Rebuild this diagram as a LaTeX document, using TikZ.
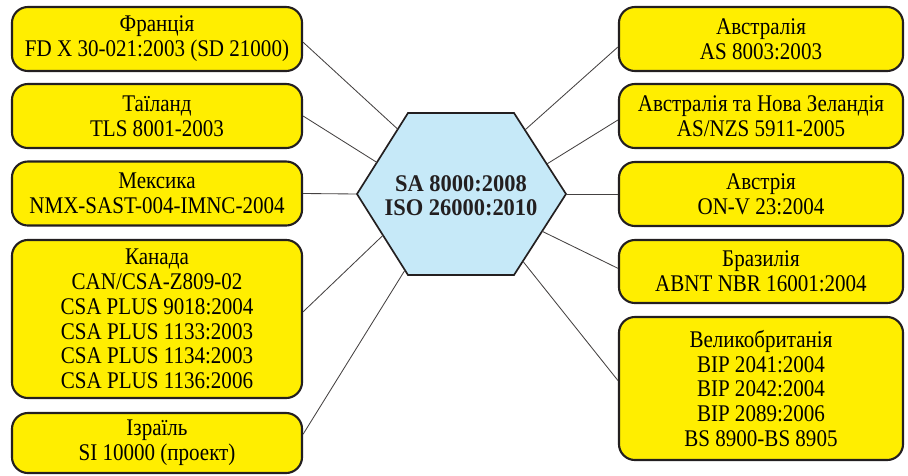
\documentclass[tikz,border=0pt]{standalone}
\usepackage{fontspec}
\newfontfamily\boxfont[FakeStretch=0.88]{Liberation Serif}
\newfontfamily\hexfont[FakeStretch=0.94]{Liberation Serif}
\usetikzlibrary{calc}
\definecolor{boxyellow}{RGB}{255,238,0}
\definecolor{hexblue}{RGB}{198,233,248}
\definecolor{edge}{RGB}{35,31,32}
\tikzset{
  stdbox/.style={draw=edge, line width=1.5pt, fill=boxyellow, rounded corners=4mm,
    align=center, inner sep=0pt, font=\boxfont\fontsize{17}{17.7}\selectfont},
  leftbox/.style={stdbox, minimum width=7.25cm},
  rightbox/.style={stdbox, minimum width=7.1cm},
  link/.style={draw=edge!85, line width=0.6pt}
}
\begin{document}
\begin{tikzpicture}[x=0.025cm,y=-0.025cm]
\useasboundingbox (0,0) rectangle (908,475);

\node[leftbox, minimum height=1.6cm] (fr) at (157,39) {Франція\\FD X 30-021:2003 (SD 21000)};
\node[leftbox, minimum height=1.6cm] (th) at (157,116) {Таїланд\\TLS 8001-2003};
\node[leftbox, minimum height=1.6cm] (mx) at (157,193.5) {Мексика\\NMX-SAST-004-IMNC-2004};
\node[leftbox, minimum height=3.95cm] (ca) at (157,319) {Канада\\CAN/CSA-Z809-02\\CSA PLUS 9018:2004\\CSA PLUS 1133:2003\\CSA PLUS 1134:2003\\CSA PLUS 1136:2006};
\node[leftbox, minimum height=1.5cm] (is) at (157,443) {Ізраїль\\SI 10000 (проект)};

\node[rightbox, minimum height=1.6cm] (au) at (761,39) {Австралія\\AS 8003:2003};
\node[rightbox, minimum height=1.6cm] (nz) at (761,116) {Австралія та Нова Зеландія\\AS/NZS 5911-2005};
\node[rightbox, minimum height=1.6cm] (at) at (761,194) {Австрія\\ON-V 23:2004};
\node[rightbox, minimum height=1.575cm] (br) at (761,271.5) {Бразилія\\ABNT NBR 16001:2004};
\node[rightbox, minimum height=3.575cm] (uk) at (761,388.5) {Великобританія\\BIP 2041:2004\\BIP 2042:2004\\BIP 2089:2006\\BS 8900-BS 8905};

\coordinate (hl) at (357,194);
\coordinate (htl) at (408,113);
\coordinate (htr) at (514,113);
\coordinate (hr) at (566,194);
\coordinate (hbr) at (514,275);
\coordinate (hbl) at (408,275);
\filldraw[draw=edge, line width=1.2pt, fill=hexblue] (hl) -- (htl) -- (htr) -- (hr) -- (hbr) -- (hbl) -- cycle;
\node[align=center, font=\hexfont\bfseries\fontsize{17}{17}\selectfont, text=edge] (hex) at (461,196) {SA 8000:2008\\ISO 26000:2010};

\coordinate (pfr) at ($(hl)!0.80!(htl)$);
\coordinate (pth) at ($(hl)!0.39!(htl)$);
\coordinate (pca) at ($(hl)!0.51!(hbl)$);
\coordinate (pis) at ($(hl)!0.94!(hbl)$);
\coordinate (pau) at ($(hr)!0.79!(htr)$);
\coordinate (pnz) at ($(hr)!0.37!(htr)$);
\coordinate (pbr) at ($(hr)!0.46!(hbr)$);
\coordinate (puk) at ($(hr)!0.83!(hbr)$);

\draw[link] ([yshift=-0.08cm]fr.east) -- (pfr);
\draw[link] (th.east) -- (pth);
\draw[link] (mx.east) -- (hl);
\draw[link] ([yshift=0.18cm]ca.east) -- (pca);
\draw[link] ([yshift=0.22cm]is.east) -- (pis);
\draw[link] ([yshift=-0.2cm]au.west) -- (pau);
\draw[link] ([yshift=-0.1cm]nz.west) -- (pnz);
\draw[link] (at.west) -- (hr);
\draw[link] ([yshift=0.08cm]br.west) -- (pbr);
\draw[link] ([yshift=0.2cm]uk.west) -- (puk);
\end{tikzpicture}
\end{document}
